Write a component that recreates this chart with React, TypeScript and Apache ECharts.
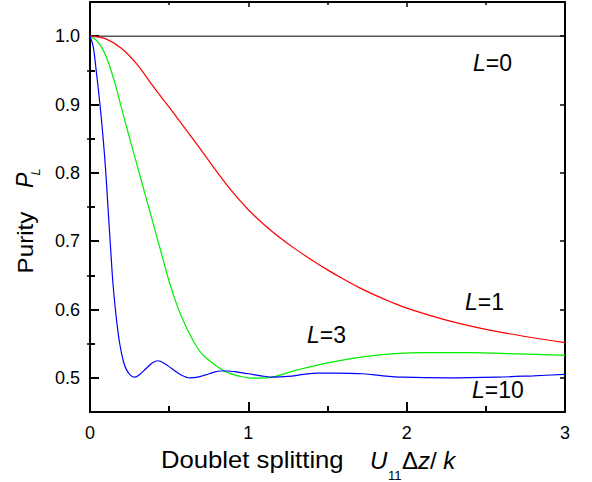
import React, { useEffect, useRef } from 'react';
import * as echarts from 'echarts';

const FONT = 'Liberation Sans, Arial, Helvetica, sans-serif';

const xMajorTicks = [0, 1, 2, 3];
const yMajorTicks = [0.5, 0.6, 0.7, 0.8, 0.9, 1.0];
const yMinorTicks = [0.55, 0.65, 0.75, 0.85, 0.95];

// L = 0
const l0X = [0, 3];
const l0Y = [1.0, 1.0];

// L = 1
const l1X = [0, 0.1, 0.2, 0.3, 0.4, 0.5, 0.6, 0.7, 0.8, 0.9, 1.0, 1.1, 1.2, 1.3, 1.4, 1.5, 1.6, 1.7, 1.8, 1.9, 2.0, 2.25, 2.5, 2.75, 3.0];
const l1Y = [1.0, 0.996, 0.982, 0.958, 0.926, 0.896, 0.865, 0.834, 0.802, 0.772, 0.746, 0.724, 0.705, 0.688, 0.6725, 0.658, 0.6445, 0.632, 0.621, 0.611, 0.602, 0.5845, 0.571, 0.5605, 0.5515];

// L = 3
const l3X = [0, 0.04, 0.08, 0.12, 0.16, 0.2, 0.25, 0.3, 0.35, 0.4, 0.45, 0.5, 0.55, 0.6, 0.65, 0.7, 0.75, 0.8, 0.85, 0.9, 0.95, 1.0, 1.07, 1.15, 1.3, 1.5, 1.8, 2.1, 2.4, 2.7, 3.0];
const l3Y = [1.0, 0.994, 0.981, 0.959, 0.929, 0.894, 0.851, 0.809, 0.767, 0.725, 0.683, 0.641, 0.606, 0.578, 0.555, 0.537, 0.526, 0.517, 0.51, 0.505, 0.502, 0.5, 0.4995, 0.501, 0.511, 0.522, 0.533, 0.537, 0.537, 0.535, 0.533];

// L = 10
const l10X = [0, 0.02, 0.04, 0.063, 0.085, 0.1, 0.114, 0.13, 0.145, 0.165, 0.187, 0.21, 0.23, 0.255, 0.282, 0.31, 0.356, 0.395, 0.43, 0.47, 0.514, 0.57, 0.63, 0.68, 0.725, 0.78, 0.82, 0.87, 0.914, 1.0, 1.08, 1.158, 1.25, 1.35, 1.43, 1.55, 1.727, 1.85, 1.98, 2.25, 2.57, 2.8, 3.0];
const l10Y = [1.0, 0.985, 0.948, 0.9, 0.845, 0.8, 0.748, 0.69, 0.638, 0.59, 0.551, 0.525, 0.512, 0.504, 0.501, 0.504, 0.514, 0.522, 0.525, 0.521, 0.514, 0.505, 0.5, 0.501, 0.504, 0.508, 0.51, 0.51, 0.509, 0.506, 0.503, 0.501, 0.502, 0.505, 0.507, 0.507, 0.506, 0.503, 0.501, 0.5, 0.501, 0.503, 0.505];

const zip = (xs: number[], ys: number[]) => xs.map((x, i) => [x, ys[i]]);

export default function App() {
  const ref = useRef<HTMLDivElement>(null);
  useEffect(() => {
    if (!ref.current) return;
    const chart = echarts.init(ref.current, null, { renderer: 'svg' });
    const axisLineStyle = { color: '#000', width: 2 };
    const labelStyle = { color: '#000', fontSize: 18, fontFamily: FONT };
    const italic = { fontStyle: 'italic', fontSize: 23, fontFamily: FONT, fill: '#000' };
    const annotation = (text: string, x: number, y: number) => ({
      type: 'text',
      x,
      y,
      style: {
        text,
        fontSize: 23,
        fontFamily: FONT,
        fill: '#000',
        align: 'left',
        verticalAlign: 'middle',
        rich: { i: italic, n: { fontSize: 23, fontFamily: FONT, fill: '#000' } },
      },
    });
    chart.setOption({
      animation: false,
      backgroundColor: '#fff',
      grid: { left: 90, right: 27, top: 2, bottom: 70 },
      xAxis: [
        {
          type: 'value',
          position: 'bottom',
          min: 0,
          max: 3,
          interval: 1,
          axisLine: { show: true, onZero: false, lineStyle: axisLineStyle },
          axisTick: { show: true, inside: true, length: 10, customValues: xMajorTicks, lineStyle: { color: '#000', width: 2 } },
          minorTick: { show: true, splitNumber: 2, length: 6, lineStyle: { color: '#000', width: 2 } },
          axisLabel: { ...labelStyle, margin: 12, customValues: xMajorTicks, formatter: (v: number) => String(v) },
          splitLine: { show: false },
        },
        {
          type: 'value',
          position: 'top',
          min: 0,
          max: 3,
          interval: 1,
          axisLine: { show: true, onZero: false, lineStyle: axisLineStyle },
          axisTick: { show: true, inside: true, length: 5, lineStyle: { color: '#000', width: 1.5 } },
          minorTick: { show: true, splitNumber: 2, length: 3, lineStyle: { color: '#000', width: 1.5 } },
          axisLabel: { show: false },
          splitLine: { show: false },
        },
      ],
      yAxis: [
        {
          type: 'value',
          position: 'left',
          min: 0.45,
          max: 1.05,
          axisLine: { show: true, onZero: false, lineStyle: axisLineStyle },
          axisTick: { show: true, inside: true, length: 9, customValues: yMajorTicks, lineStyle: { color: '#000', width: 2 } },
          axisLabel: { ...labelStyle, margin: 10, customValues: yMajorTicks, formatter: (v: number) => v.toFixed(1) },
          splitLine: { show: false },
        },
        {
          type: 'value',
          position: 'left',
          min: 0.45,
          max: 1.05,
          axisLine: { show: false },
          axisTick: { show: true, inside: true, length: 5, customValues: yMinorTicks, lineStyle: { color: '#000', width: 2 } },
          axisLabel: { show: false, customValues: yMinorTicks },
          splitLine: { show: false },
        },
        {
          type: 'value',
          position: 'right',
          min: 0.45,
          max: 1.05,
          axisLine: { show: true, onZero: false, lineStyle: axisLineStyle },
          axisTick: { show: true, inside: true, length: 5, customValues: yMajorTicks, lineStyle: { color: '#000', width: 1.5 } },
          axisLabel: { show: false, customValues: yMajorTicks },
          splitLine: { show: false },
        },
        {
          type: 'value',
          position: 'right',
          min: 0.45,
          max: 1.05,
          axisLine: { show: false },
          axisTick: { show: true, inside: true, length: 3, customValues: yMinorTicks, lineStyle: { color: '#000', width: 1.5 } },
          axisLabel: { show: false, customValues: yMinorTicks },
          splitLine: { show: false },
        },
      ],
      series: [
        { name: 'L=0', type: 'line', data: zip(l0X, l0Y), showSymbol: false, lineStyle: { color: '#000', width: 1 }, z: 3 },
        { name: 'L=1', type: 'line', data: zip(l1X, l1Y), showSymbol: false, smooth: 0.35, lineStyle: { color: '#ff0000', width: 1.2 } },
        { name: 'L=3', type: 'line', data: zip(l3X, l3Y), showSymbol: false, smooth: 0.35, lineStyle: { color: '#00ee00', width: 1.2 } },
        { name: 'L=10', type: 'line', data: zip(l10X, l10Y), showSymbol: false, smooth: 0.35, lineStyle: { color: '#0000ff', width: 1.2 } },
      ],
      graphic: [
        annotation('{i|L}=0', 473, 63),
        annotation('{i|L}=1', 465, 302),
        annotation('{i|L}=3', 307, 335),
        annotation('{i|L}=10', 472, 390),
        {
          type: 'text',
          x: 161,
          y: 460,
          scaleX: 1.07,
          style: { text: 'Doublet splitting', fontSize: 24, fontFamily: FONT, fill: '#000', align: 'left', verticalAlign: 'middle' },
        },
        {
          type: 'text',
          x: 370,
          y: 460,
          style: { text: 'U', fontSize: 24, fontStyle: 'italic', fontFamily: FONT, fill: '#000', align: 'left', verticalAlign: 'middle' },
        },
        {
          type: 'text',
          x: 388,
          y: 475.5,
          style: { text: '11', fontSize: 13, fontFamily: FONT, fill: '#000', align: 'left', verticalAlign: 'middle' },
        },
        {
          type: 'text',
          x: 402,
          y: 460,
          style: {
            text: '{n|Δ}{i|z}{n|/ }{i|k}',
            fontSize: 24,
            fontFamily: FONT,
            fill: '#000',
            align: 'left',
            verticalAlign: 'middle',
            rich: {
              n: { fontSize: 24, fontFamily: FONT, fill: '#000' },
              i: { fontSize: 24, fontFamily: FONT, fontStyle: 'italic', fill: '#000' },
            },
          },
        },
        {
          type: 'text',
          x: 25,
          y: 242.5,
          rotation: Math.PI / 2,
          scaleX: 1.1,
          style: { text: 'Purity', fontSize: 22, fontFamily: FONT, fill: '#000', align: 'center', verticalAlign: 'middle' },
        },
        {
          type: 'text',
          x: 25,
          y: 188,
          rotation: Math.PI / 2,
          style: { text: 'P', fontSize: 23, fontStyle: 'italic', fontFamily: FONT, fill: '#000', align: 'left', verticalAlign: 'middle' },
        },
        {
          type: 'text',
          x: 35.5,
          y: 175.5,
          rotation: Math.PI / 2,
          style: { text: 'L', fontSize: 13, fontStyle: 'italic', fontFamily: FONT, fill: '#000', align: 'left', verticalAlign: 'middle' },
        },
      ],
    });
    return () => chart.dispose();
  }, []);
  return <div ref={ref} style={{ position: 'fixed', left: 0, top: 0, width: 592, height: 482 }} />;
}
